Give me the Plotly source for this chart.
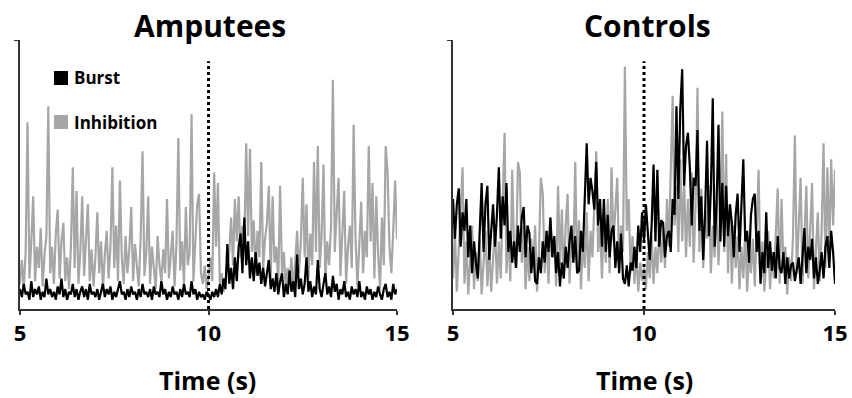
import numpy as np
import plotly.graph_objects as go

# time axis (s), 0.05 s sampling
time_s = np.round(np.linspace(5, 15, 201), 3)

amputees_inhibition = [
    8, 17, 6, 20, 69, 10, 24, 41, 9, 22, 14, 29, 7, 19, 26, 75, 12, 22, 8, 27,
    36, 10, 24, 31, 9, 18, 6, 22, 52, 14, 43, 8, 20, 41, 11, 25, 38, 9, 21, 7,
    18, 35, 12, 24, 6, 19, 28, 10, 22, 52, 14, 30, 9, 47, 18, 8, 26, 12, 21, 37,
    9, 23, 14, 7, 25, 58, 11, 20, 41, 8, 22, 13, 6, 26, 15, 9, 21, 12, 40, 10,
    19, 28, 7, 23, 63, 13, 24, 8, 37, 15, 20, 72, 9, 25, 38, 42, 12, 8, 15, 6,
    10, 18, 9, 50, 22, 46, 8, 12, 5, 9, 14, 20, 33, 15, 40, 24, 41, 18, 30, 22,
    61, 26, 59, 20, 32, 12, 28, 18, 54, 14, 25, 31, 45, 10, 41, 16, 22, 8, 45, 12,
    20, 6, 14, 9, 18, 5, 16, 28, 12, 24, 48, 18, 38, 10, 27, 15, 54, 20, 60, 14,
    26, 53, 9, 24, 15, 30, 85, 20, 35, 48, 11, 26, 43, 8, 22, 30, 14, 68, 25, 7,
    21, 39, 12, 28, 18, 60, 24, 46, 10, 41, 19, 6, 33, 15, 60, 50, 22, 12, 28, 47, 25,
]

amputees_burst = [
    6, 3, 8, 4, 5, 2, 9, 3, 6, 4, 7, 2, 5, 3, 10, 4, 6, 3, 5, 2,
    7, 4, 10, 3, 6, 2, 5, 4, 8, 3, 6, 2, 5, 7, 3, 6, 2, 8, 4, 5,
    3, 6, 2, 5, 8, 3, 6, 4, 7, 2, 5, 3, 6, 9, 4, 5, 2, 6, 3, 7,
    4, 5, 2, 6, 3, 8, 4, 5, 3, 6, 2, 7, 4, 5, 3, 9, 4, 6, 2, 5,
    3, 7, 4, 5, 2, 6, 3, 8, 4, 5, 3, 9, 4, 6, 2, 5, 3, 4, 2, 5,
    4, 2, 5, 3, 6, 3, 8, 4, 10, 6, 23, 8, 14, 6, 18, 9, 22, 27, 12, 33,
    15, 24, 10, 18, 9, 20, 11, 16, 8, 14, 7, 12, 17, 6, 10, 5, 12, 4, 9, 12,
    3, 8, 4, 13, 5, 9, 3, 19, 6, 10, 4, 8, 18, 5, 9, 3, 7, 4, 17, 6,
    3, 8, 12, 4, 7, 3, 11, 5, 8, 2, 6, 4, 9, 3, 5, 2, 7, 4, 6, 3,
    9, 3, 5, 2, 7, 4, 6, 2, 5, 3, 7, 4, 2, 6, 8, 3, 5, 2, 8, 4, 6,
]

controls_inhibition = [
    10, 28, 5, 22, 35, 52, 8, 24, 4, 18, 30, 6, 20, 9, 25, 4, 17, 28, 7, 22,
    5, 19, 30, 8, 24, 10, 38, 65, 12, 28, 9, 51, 20, 14, 54, 50, 16, 30, 6, 22,
    9, 25, 14, 30, 5, 20, 48, 42, 12, 28, 8, 33, 18, 26, 7, 45, 15, 36, 10, 30,
    42, 8, 27, 16, 54, 12, 32, 6, 25, 14, 35, 9, 28, 18, 38, 58, 20, 30, 10, 34,
    16, 40, 12, 52, 24, 35, 48, 14, 30, 20, 90, 28, 40, 12, 26, 8, 20, 5, 16, 9,
    14, 6, 20, 10, 26, 8, 22, 12, 30, 16, 28, 14, 40, 22, 52, 79, 30, 45, 20, 55,
    24, 48, 18, 40, 22, 50, 16, 38, 82, 20, 44, 14, 36, 25, 45, 12, 30, 18, 40, 15,
    35, 73, 20, 57, 12, 38, 8, 30, 14, 26, 6, 22, 10, 28, 5, 20, 12, 25, 7, 32,
    51, 10, 24, 5, 18, 28, 6, 20, 10, 26, 44, 8, 40, 14, 22, 4, 18, 9, 26, 64,
    12, 30, 48, 8, 26, 45, 10, 32, 46, 6, 24, 35, 9, 28, 61, 14, 52, 20, 55, 30, 51,
]

controls_burst = [
    40, 25, 38, 44, 22, 35, 28, 40, 18, 30, 12, 24, 16, 10, 28, 46, 20, 38, 45, 17,
    28, 38, 22, 34, 52, 25, 41, 30, 46, 20, 28, 16, 24, 14, 30, 20, 33, 37, 18, 30,
    27, 12, 22, 9, 8, 18, 12, 24, 16, 28, 20, 33, 18, 26, 12, 20, 7, 16, 10, 22,
    14, 24, 30, 16, 26, 12, 13, 28, 20, 40, 61, 38, 48, 43, 36, 54, 30, 40, 22, 40,
    20, 34, 18, 28, 30, 14, 24, 12, 27, 10, 8, 15, 7, 16, 13, 22, 14, 30, 20, 35,
    24, 38, 28, 17, 30, 53, 24, 51, 22, 32, 31, 18, 26, 28, 20, 40, 34, 75, 40, 74,
    89, 45, 60, 65, 52, 30, 48, 45, 66, 28, 41, 17, 35, 62, 26, 43, 78, 22, 38, 68,
    24, 46, 22, 45, 26, 38, 31, 18, 34, 42, 20, 36, 55, 24, 28, 16, 34, 40, 42, 20,
    28, 8, 20, 12, 35, 14, 24, 13, 20, 10, 26, 14, 12, 20, 8, 18, 10, 15, 16, 9,
    14, 18, 8, 20, 29, 12, 22, 17, 25, 10, 18, 8, 13, 20, 10, 22, 26, 14, 28, 20, 8,
]

panel_titles = ["Amputees", "Controls"]
x_tick_vals = [5, 10, 15]
x_tick_text = ["5", "10", "15"]
x_axis_title = "Time (s)"
legend_labels = ["Burst", "Inhibition"]
stimulus_time = 10

GREY = "#a6a6a6"
BLACK = "#000000"
FONT = "Open Sans"

W, H = 852, 398
def px(x):
    return x / W
def py(y):
    return 1 - y / H

fig = go.Figure()

for xa, ya, inh, bur in (("x", "y", amputees_inhibition, amputees_burst),
                         ("x2", "y2", controls_inhibition, controls_burst)):
    fig.add_trace(go.Scatter(x=time_s, y=inh, mode="lines",
                             line=dict(color=GREY, width=2.2), xaxis=xa, yaxis=ya,
                             showlegend=False))
    fig.add_trace(go.Scatter(x=time_s, y=bur, mode="lines",
                             line=dict(color=BLACK, width=2.2), xaxis=xa, yaxis=ya,
                             showlegend=False))

ydom = [py(309), py(40)]
yrange = [-1.5, 100]

xaxis_common = dict(range=[5, 15], showline=True, linecolor="#333333", linewidth=2,
                    ticks="outside", ticklen=4, tickwidth=1.5, tickcolor="#333333",
                    tickvals=x_tick_vals, ticktext=[f"<b>{t}</b>" for t in x_tick_text],
                    showgrid=False, zeroline=False, automargin=False,
                    tickfont=dict(family=FONT, size=22, color="#000"))
yaxis_common = dict(range=yrange, domain=ydom, showline=True, linecolor="#333333",
                    linewidth=2, ticks="outside", ticklen=4, tickcolor="#333333",
                    tickvals=[100], showticklabels=False, showgrid=False,
                    zeroline=False, automargin=False)

fig.update_layout(
    width=W, height=H,
    margin=dict(l=0, r=0, t=0, b=0),
    paper_bgcolor="white", plot_bgcolor="white",
    font=dict(family=FONT, color="#000"),
    xaxis=dict(domain=[px(20), px(397)], anchor="y", **xaxis_common),
    yaxis=dict(anchor="x", **yaxis_common),
    xaxis2=dict(domain=[px(453), px(835)], anchor="y2", **xaxis_common),
    yaxis2=dict(anchor="x2", **yaxis_common),
)

# dotted stimulus line
for xr, yr in (("x", "y"), ("x2", "y2")):
    fig.add_shape(type="line", xref=xr, yref=yr, x0=stimulus_time, x1=stimulus_time,
                  y0=-1.5, y1=92, line=dict(color=BLACK, width=3, dash="dot"))

# titles and axis titles
for cx, t in ((210, panel_titles[0]), (647, panel_titles[1])):
    fig.add_annotation(text=f"<b>{t}</b>", x=px(cx), y=py(26), xref="paper", yref="paper",
                       showarrow=False, font=dict(family=FONT, size=30, color="#000"),
                       xanchor="center", yanchor="middle")
for cx in (207, 644):
    fig.add_annotation(text=f"<b>{x_axis_title}</b>", x=px(cx), y=py(380), xref="paper",
                       yref="paper", showarrow=False,
                       font=dict(family=FONT, size=25, color="#000"),
                       xanchor="center", yanchor="middle")

# legend
for (sy, col, lab) in ((78, BLACK, legend_labels[0]), (122, GREY, legend_labels[1])):
    fig.add_shape(type="rect", xref="paper", yref="paper",
                  x0=px(54), x1=px(68), y0=py(sy + 7), y1=py(sy - 7),
                  line=dict(width=0), fillcolor=col)
    fig.add_annotation(text=f"<b>{lab}</b>", x=px(72), y=py(sy), xref="paper", yref="paper",
                       showarrow=False, font=dict(family=FONT, size=17, color="#000"),
                       xanchor="left", yanchor="middle")

fig.write_html(
    "out.html",
    config={"displayModeBar": False},
    post_script="document.body.style.margin='0';document.body.style.overflow='hidden';",
)
